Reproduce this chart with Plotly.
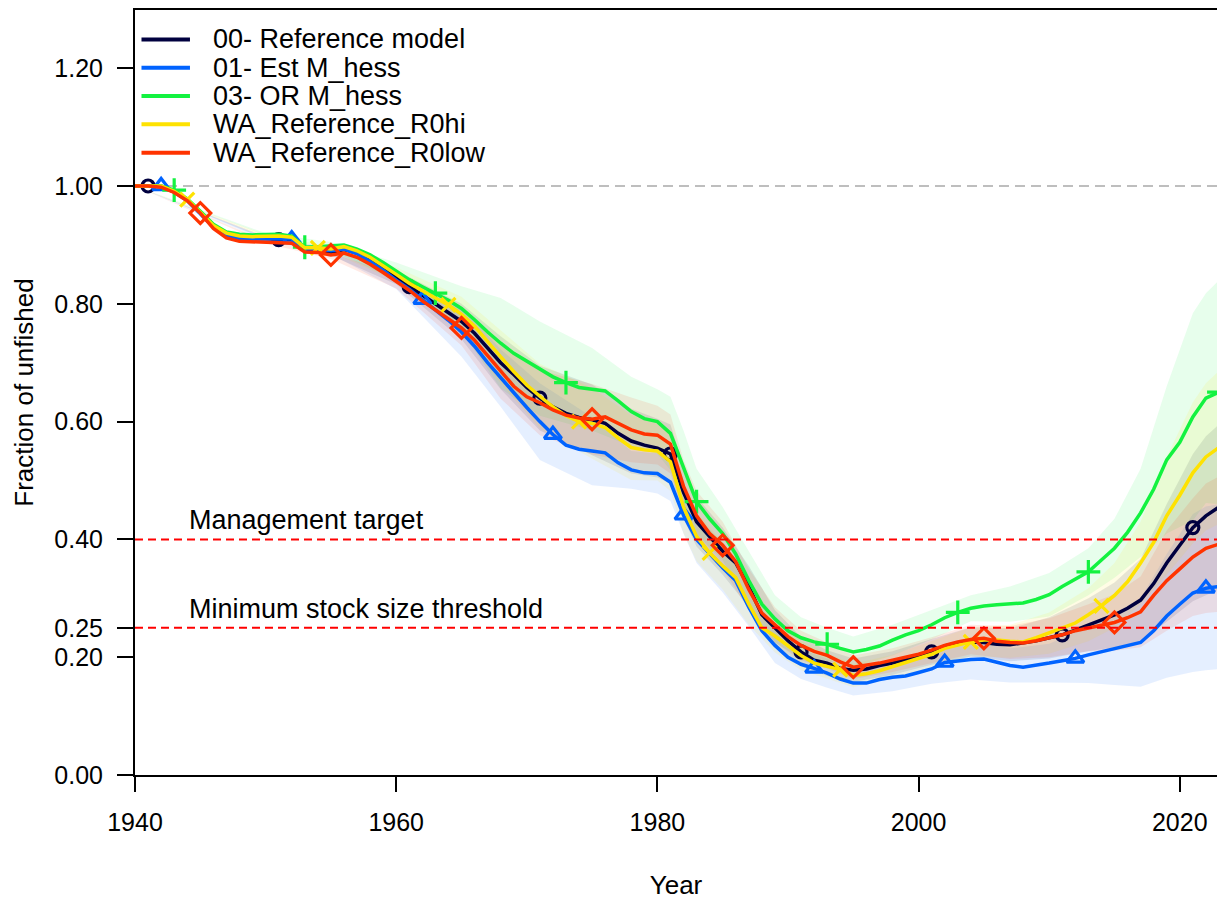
import plotly.graph_objects as go

# ---------------- data ----------------
YEARS = list(range(1940, 2024))

SERIES_NAMES = ["00- Reference model", "01- Est M_hess", "03- OR M_hess",
                "WA_Reference_R0hi", "WA_Reference_R0low"]

REF = [1.000, 1.000, 0.999, 0.990, 0.976, 0.954, 0.931, 0.917, 0.912, 0.911,
       0.911, 0.909, 0.909, 0.893, 0.892, 0.887, 0.892, 0.886, 0.873, 0.860,
       0.845, 0.829, 0.815, 0.800, 0.786, 0.770, 0.750, 0.725, 0.700, 0.680,
       0.658, 0.640, 0.625, 0.614, 0.607, 0.603, 0.597, 0.580, 0.567, 0.560,
       0.555, 0.545, 0.480, 0.430, 0.405, 0.380, 0.360, 0.320, 0.272, 0.250,
       0.228, 0.209, 0.195, 0.190, 0.181, 0.178, 0.180, 0.186, 0.190, 0.196,
       0.200, 0.209, 0.219, 0.224, 0.226, 0.225, 0.222, 0.221, 0.224, 0.228,
       0.233, 0.238, 0.246, 0.255, 0.264, 0.272, 0.283, 0.297, 0.325, 0.360,
       0.390, 0.420, 0.440, 0.455]

EST_M = [1.000, 1.000, 1.000, 0.990, 0.975, 0.953, 0.930, 0.916, 0.911, 0.910,
         0.910, 0.910, 0.910, 0.893, 0.893, 0.890, 0.893, 0.885, 0.872, 0.857,
         0.840, 0.825, 0.807, 0.790, 0.772, 0.752, 0.728, 0.700, 0.674, 0.648,
         0.624, 0.600, 0.578, 0.560, 0.553, 0.550, 0.547, 0.530, 0.518, 0.513,
         0.512, 0.497, 0.441, 0.400, 0.375, 0.352, 0.330, 0.285, 0.245, 0.220,
         0.200, 0.188, 0.181, 0.173, 0.163, 0.156, 0.156, 0.162, 0.166, 0.168,
         0.174, 0.180, 0.191, 0.194, 0.196, 0.197, 0.191, 0.186, 0.183, 0.186,
         0.190, 0.194, 0.198, 0.204, 0.209, 0.214, 0.219, 0.225, 0.245, 0.270,
         0.290, 0.309, 0.317, 0.320]

OR_M = [1.000, 1.000, 1.000, 0.993, 0.978, 0.957, 0.935, 0.922, 0.918, 0.917,
        0.918, 0.918, 0.915, 0.896, 0.897, 0.898, 0.900, 0.893, 0.883, 0.870,
        0.855, 0.841, 0.829, 0.818, 0.806, 0.792, 0.773, 0.752, 0.733, 0.716,
        0.703, 0.690, 0.676, 0.666, 0.658, 0.655, 0.652, 0.635, 0.617, 0.605,
        0.600, 0.580, 0.520, 0.464, 0.435, 0.410, 0.375, 0.330, 0.290, 0.265,
        0.245, 0.233, 0.226, 0.222, 0.215, 0.209, 0.213, 0.219, 0.229, 0.238,
        0.245, 0.255, 0.267, 0.276, 0.283, 0.287, 0.289, 0.290, 0.292, 0.298,
        0.306, 0.320, 0.333, 0.345, 0.365, 0.385, 0.412, 0.445, 0.485, 0.535,
        0.565, 0.608, 0.640, 0.650]

R0HI = [1.000, 1.000, 1.000, 0.991, 0.977, 0.955, 0.933, 0.920, 0.915, 0.914,
        0.915, 0.915, 0.913, 0.895, 0.895, 0.893, 0.897, 0.890, 0.879, 0.865,
        0.850, 0.835, 0.822, 0.810, 0.798, 0.782, 0.762, 0.735, 0.710, 0.685,
        0.662, 0.643, 0.625, 0.610, 0.600, 0.597, 0.590, 0.572, 0.556, 0.552,
        0.550, 0.532, 0.455, 0.405, 0.377, 0.355, 0.335, 0.290, 0.250, 0.236,
        0.220, 0.203, 0.190, 0.185, 0.179, 0.169, 0.172, 0.177, 0.184, 0.190,
        0.198, 0.205, 0.215, 0.221, 0.226, 0.229, 0.229, 0.227, 0.226, 0.233,
        0.241, 0.250, 0.258, 0.272, 0.287, 0.305, 0.328, 0.360, 0.395, 0.440,
        0.475, 0.513, 0.540, 0.556]

R0LOW = [1.000, 1.000, 0.998, 0.989, 0.975, 0.954, 0.928, 0.912, 0.906, 0.905,
         0.905, 0.904, 0.903, 0.888, 0.887, 0.883, 0.886, 0.879, 0.867, 0.853,
         0.838, 0.823, 0.805, 0.790, 0.775, 0.759, 0.738, 0.712, 0.684, 0.660,
         0.642, 0.632, 0.620, 0.611, 0.606, 0.604, 0.608, 0.597, 0.586, 0.579,
         0.577, 0.562, 0.490, 0.440, 0.410, 0.390, 0.362, 0.315, 0.275, 0.255,
         0.235, 0.220, 0.210, 0.203, 0.192, 0.183, 0.186, 0.190, 0.195, 0.200,
         0.205, 0.212, 0.220, 0.226, 0.230, 0.232, 0.227, 0.225, 0.224, 0.228,
         0.233, 0.238, 0.245, 0.250, 0.255, 0.259, 0.267, 0.277, 0.305, 0.330,
         0.350, 0.370, 0.385, 0.392]

# uncertainty intervals
BAND_YEARS = [1940, 1950, 1955, 1960, 1965, 1968, 1971, 1975, 1978, 1980,
              1981, 1982, 1983, 1985, 1987, 1989, 1991, 1993, 1995, 1998,
              2001, 2004, 2007, 2010, 2013, 2015, 2017, 2019, 2021, 2022, 2023]

REF_LO = [1.0, 0.91, 0.882, 0.833, 0.74, 0.655, 0.585, 0.543, 0.512, 0.505,
          0.495, 0.435, 0.388, 0.34, 0.285, 0.22, 0.184, 0.168, 0.158, 0.17,
          0.187, 0.201, 0.193, 0.198, 0.21, 0.217, 0.227, 0.26, 0.295, 0.305, 0.315]
REF_HI = [1.0, 0.914, 0.892, 0.857, 0.80, 0.745, 0.695, 0.663, 0.622, 0.605,
          0.595, 0.525, 0.472, 0.42, 0.355, 0.28, 0.234, 0.212, 0.198, 0.21,
          0.231, 0.251, 0.249, 0.268, 0.30, 0.327, 0.367, 0.46, 0.545, 0.575, 0.595]

EST_M_LO = [1.0, 0.908, 0.884, 0.825, 0.71, 0.625, 0.535, 0.492, 0.486, 0.478,
            0.465, 0.41, 0.36, 0.31, 0.252, 0.19, 0.163, 0.148, 0.135, 0.142,
            0.155, 0.162, 0.157, 0.157, 0.156, 0.153, 0.15, 0.165, 0.175, 0.178, 0.18]
EST_M_HI = [1.0, 0.912, 0.896, 0.855, 0.794, 0.723, 0.665, 0.608, 0.55, 0.546,
            0.529, 0.472, 0.44, 0.394, 0.318, 0.25, 0.213, 0.198, 0.177, 0.19,
            0.205, 0.23, 0.215, 0.223, 0.252, 0.275, 0.30, 0.375, 0.443, 0.456, 0.46]

OR_M_LO = [1.0, 0.916, 0.891, 0.84, 0.754, 0.656, 0.61, 0.585, 0.558, 0.545,
           0.518, 0.455, 0.408, 0.365, 0.28, 0.225, 0.198, 0.194, 0.183, 0.203,
           0.23, 0.261, 0.26, 0.269, 0.305, 0.335, 0.37, 0.41, 0.432, 0.462, 0.46]
OR_M_HI = [1.0, 0.92, 0.905, 0.87, 0.83, 0.81, 0.77, 0.725, 0.676, 0.655,
           0.642, 0.585, 0.52, 0.455, 0.38, 0.305, 0.268, 0.25, 0.235, 0.255,
           0.28, 0.305, 0.32, 0.343, 0.385, 0.435, 0.52, 0.66, 0.784, 0.818, 0.84]

R0HI_LO = [1.0, 0.913, 0.888, 0.838, 0.752, 0.665, 0.588, 0.537, 0.501, 0.50,
           0.482, 0.41, 0.363, 0.315, 0.255, 0.208, 0.178, 0.163, 0.149, 0.164,
           0.183, 0.201, 0.199, 0.206, 0.227, 0.25, 0.29, 0.34, 0.393, 0.415, 0.426]
R0HI_HI = [1.0, 0.917, 0.898, 0.862, 0.812, 0.755, 0.698, 0.657, 0.611, 0.60,
           0.582, 0.50, 0.447, 0.395, 0.325, 0.268, 0.228, 0.207, 0.189, 0.204,
           0.227, 0.251, 0.255, 0.276, 0.317, 0.36, 0.43, 0.54, 0.633, 0.665, 0.686]

R0LOW_LO = [1.0, 0.903, 0.876, 0.826, 0.729, 0.639, 0.577, 0.544, 0.531, 0.527,
            0.512, 0.445, 0.398, 0.35, 0.28, 0.225, 0.195, 0.181, 0.163, 0.175,
            0.19, 0.205, 0.197, 0.20, 0.21, 0.211, 0.217, 0.245, 0.27, 0.275, 0.277]
R0LOW_HI = [1.0, 0.907, 0.886, 0.85, 0.789, 0.729, 0.687, 0.664, 0.641, 0.627,
            0.612, 0.535, 0.482, 0.43, 0.35, 0.285, 0.245, 0.225, 0.203, 0.215,
            0.234, 0.255, 0.253, 0.266, 0.29, 0.307, 0.337, 0.415, 0.47, 0.495, 0.507]

MARKER_FIRST_YEARS = [1941, 1942, 1943, 1944, 1945]
MARKER_EVERY = 10

UNFISHED = 1.0
TARGET = 0.40
MSST = 0.25
TARGET_LABEL = "Management target"
MSST_LABEL = "Minimum stock size threshold"
LABEL_YEAR = 1944

Y_TICKS = [0.0, 0.20, 0.25, 0.40, 0.60, 0.80, 1.00, 1.20]
Y_TICK_LABELS = ["0.00", "0.20", "0.25", "0.40", "0.60", "0.80", "1.00", "1.20"]
X_TICKS = [1940, 1960, 1980, 2000, 2020]

# ---------------- styling ----------------
COLORS = ["#00003F", "#0063FF", "#13F240", "#FEE201", "#FF3300"]
BAND_RGBA = ["rgba(0,0,63,0.10)", "rgba(0,99,255,0.10)", "rgba(19,242,64,0.10)",
             "rgba(254,226,1,0.10)", "rgba(255,51,0,0.10)"]
SYMBOLS = ["circle-open", "triangle-up-open", "cross-thin-open", "x-thin-open", "diamond-open"]
SIZES = [12, 15, 17, 14, 16]
FONT = "Liberation Sans, Arial, sans-serif"

values = [REF, EST_M, OR_M, R0HI, R0LOW]
lows = [REF_LO, EST_M_LO, OR_M_LO, R0HI_LO, R0LOW_LO]
highs = [REF_HI, EST_M_HI, OR_M_HI, R0HI_HI, R0LOW_HI]

fig = go.Figure()

# shaded intervals
for i in range(5):
    fig.add_trace(go.Scatter(
        x=BAND_YEARS + BAND_YEARS[::-1],
        y=highs[i] + lows[i][::-1],
        fill="toself", fillcolor=BAND_RGBA[i], line=dict(width=0),
        mode="lines", hoverinfo="skip", showlegend=False))

# lines and markers
for i in range(5):
    fig.add_trace(go.Scatter(
        x=YEARS, y=values[i], mode="lines", name=SERIES_NAMES[i],
        line=dict(color=COLORS[i], width=3.5), showlegend=False))
    mx = [y for y in YEARS if y >= MARKER_FIRST_YEARS[i] and (y - MARKER_FIRST_YEARS[i]) % MARKER_EVERY == 0]
    my = [values[i][YEARS.index(y)] for y in mx]
    fig.add_trace(go.Scatter(
        x=mx, y=my, mode="markers", name=SERIES_NAMES[i], showlegend=False,
        marker=dict(symbol=SYMBOLS[i], size=SIZES[i], color=COLORS[i],
                    line=dict(width=3.2, color=COLORS[i]))))

# reference lines
fig.add_hline(y=UNFISHED, line=dict(color="#BEBEBE", width=2, dash="10px,6px"), layer="below")
fig.add_hline(y=TARGET, line=dict(color="#FF0000", width=2, dash="8px,5px"))
fig.add_hline(y=MSST, line=dict(color="#FF0000", width=2, dash="8px,5px"))

fig.add_annotation(x=LABEL_YEAR, y=TARGET, yshift=19, text=TARGET_LABEL, showarrow=False,
                   xanchor="left", yanchor="middle", font=dict(size=27, color="black", family=FONT))
fig.add_annotation(x=LABEL_YEAR, y=MSST, yshift=19, text=MSST_LABEL, showarrow=False,
                   xanchor="left", yanchor="middle", font=dict(size=27, color="black", family=FONT))

# manual legend (R-style: long line keys, tight rows)
LEG_Y0 = 0.9615
LEG_DY = 0.037
for i in range(5):
    yy = LEG_Y0 - i * LEG_DY
    fig.add_shape(type="line", xref="paper", yref="paper", x0=0.006, x1=0.0508, y0=yy, y1=yy,
                  line=dict(color=COLORS[i], width=4))
    fig.add_annotation(xref="paper", yref="paper", x=0.0705, y=yy, text=SERIES_NAMES[i],
                       showarrow=False, xanchor="left", yanchor="middle",
                       font=dict(size=27, color="black", family=FONT))

fig.update_layout(
    width=1217, height=902,
    margin=dict(l=135, r=0, t=10, b=127),
    plot_bgcolor="white", paper_bgcolor="white",
    font=dict(family=FONT, size=25, color="black"),
    showlegend=False,
)
fig.update_xaxes(
    range=[1940, 2022.85], tickvals=X_TICKS, ticktext=[str(t) for t in X_TICKS],
    showgrid=False, zeroline=False, showline=True, linecolor="black", linewidth=2,
    mirror=True, ticks="outside", ticklen=15, tickwidth=2, tickcolor="black",
    ticklabelstandoff=9,
    tickfont=dict(size=25), title=dict(text="Year", font=dict(size=26), standoff=41),
)
fig.update_yaxes(
    range=[0, 1.2988], tickvals=Y_TICKS, ticktext=Y_TICK_LABELS,
    showgrid=False, zeroline=False, showline=True, linecolor="black", linewidth=2,
    ticks="outside", ticklen=16, tickwidth=2, tickcolor="black", ticklabelstandoff=9,
    tickfont=dict(size=25), title=dict(text="Fraction of unfished", font=dict(size=26), standoff=13),
)

# remove the default 8px page margin so the figure fills the window exactly
fig.write_html("out.html",
               config={"displayModeBar": False},
               post_script="document.body.style.margin='0';document.body.style.overflow='hidden';")
